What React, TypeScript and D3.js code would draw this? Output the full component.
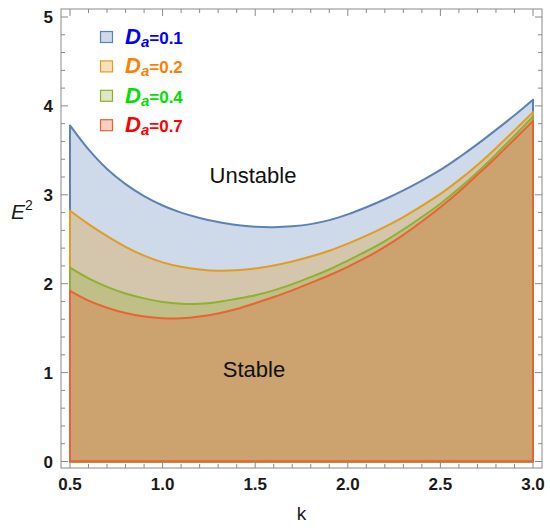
import React from "react";
import * as d3 from "d3";

const kValues = [0.5, 0.6, 0.7, 0.8, 0.9, 1.0, 1.1, 1.2, 1.3, 1.4, 1.5, 1.6, 1.7, 1.8, 1.9, 2.0, 2.1, 2.2, 2.3, 2.4, 2.5, 2.6, 2.7, 2.8, 2.9, 3.0];
const e2Da01 = [3.78, 3.51, 3.29, 3.12, 2.985, 2.88, 2.8, 2.74, 2.695, 2.66, 2.64, 2.635, 2.645, 2.67, 2.715, 2.78, 2.86, 2.95, 3.05, 3.16, 3.28, 3.42, 3.57, 3.73, 3.895, 4.07];
const e2Da02 = [2.82, 2.67, 2.535, 2.415, 2.315, 2.24, 2.19, 2.16, 2.145, 2.15, 2.17, 2.205, 2.25, 2.305, 2.37, 2.45, 2.54, 2.64, 2.75, 2.875, 3.01, 3.165, 3.335, 3.525, 3.725, 3.93];
const e2Da04 = [2.18, 2.06, 1.965, 1.89, 1.835, 1.795, 1.775, 1.775, 1.795, 1.83, 1.87, 1.925, 1.995, 2.075, 2.16, 2.26, 2.365, 2.48, 2.61, 2.75, 2.9, 3.07, 3.255, 3.455, 3.665, 3.88];
const e2Da07 = [1.92, 1.81, 1.73, 1.67, 1.63, 1.61, 1.61, 1.63, 1.665, 1.715, 1.78, 1.85, 1.925, 2.01, 2.095, 2.19, 2.295, 2.415, 2.55, 2.7, 2.86, 3.035, 3.225, 3.42, 3.625, 3.83];

const seriesLabels = ["0.1", "0.2", "0.4", "0.7"];
const xTickLabels = [0.5, 1.0, 1.5, 2.0, 2.5, 3.0];
const yTickLabels = [0, 1, 2, 3, 4, 5];

const lineColors = ["#5E81B5", "#E19C24", "#8FB032", "#EB6235"];
const textColors = ["#0000FF", "#FF8000", "#00E000", "#FF0000"];

export default function App() {
  const W = 550;
  const H = 531;
  const frame = { left: 61, right: 542, top: 9, bottom: 468 };
  const x = d3.scaleLinear().domain([0.5, 3.0]).range([70, 533]);
  const y = d3.scaleLinear().domain([0, 5]).range([461.5, 17]);
  const font = "'Liberation Sans', Arial, Helvetica, sans-serif";

  const series = [e2Da01, e2Da02, e2Da04, e2Da07];
  const area = d3
    .area<number>()
    .x((_, i) => x(kValues[i]))
    .y0(() => y(0))
    .y1((d) => y(d))
    .curve(d3.curveCatmullRom.alpha(0.5));

  const xMinor = d3.range(0.5, 3.0001, 0.1);
  const yMinor = d3.range(0, 5.0001, 0.2);
  const isMajorX = (v: number) => Math.abs(v * 2 - Math.round(v * 2)) < 1e-6;
  const isMajorY = (v: number) => Math.abs(v - Math.round(v)) < 1e-6;
  const tickColor = "#8a8a8a";

  return (
    <svg
      width={W}
      height={H}
      style={{ position: "absolute", left: 0, top: 0, background: "#fff" }}
      fontFamily={font}
    >
      {series.map((s, i) => (
        <path
          key={i}
          d={area(s) || ""}
          fill={lineColors[i]}
          fillOpacity={0.3}
          stroke={lineColors[i]}
          strokeWidth={2}
          strokeLinejoin="round"
        />
      ))}

      {/* frame */}
      <rect
        x={frame.left}
        y={frame.top}
        width={frame.right - frame.left}
        height={frame.bottom - frame.top}
        fill="none"
        stroke={tickColor}
        strokeWidth={1}
      />
      {xMinor.map((v, i) => {
        const len = isMajorX(v) ? 7 : 4;
        const px = x(v);
        return (
          <g key={"xt" + i} stroke={tickColor} strokeWidth={1}>
            <line x1={px} x2={px} y1={frame.bottom} y2={frame.bottom - len} />
            <line x1={px} x2={px} y1={frame.top} y2={frame.top + len} />
          </g>
        );
      })}
      {yMinor.map((v, i) => {
        const len = isMajorY(v) ? 7 : 4;
        const py = y(v);
        return (
          <g key={"yt" + i} stroke={tickColor} strokeWidth={1}>
            <line x1={frame.left} x2={frame.left + len} y1={py} y2={py} />
            <line x1={frame.right} x2={frame.right - len} y1={py} y2={py} />
          </g>
        );
      })}
      {xTickLabels.map((v, i) => (
        <text
          key={"xl" + i}
          x={x(v)}
          y={490}
          textAnchor="middle"
          fontSize={17}
          fontWeight="bold"
          fill="#1a1a1a"
        >
          {v.toFixed(1)}
        </text>
      ))}
      {yTickLabels.map((v, i) => (
        <text
          key={"yl" + i}
          x={53}
          y={y(v)}
          dy="0.36em"
          textAnchor="end"
          fontSize={17}
          fontWeight="bold"
          fill="#1a1a1a"
        >
          {v}
        </text>
      ))}

      <text x={301.5} y={520} textAnchor="middle" fontSize={19} fill="#1a1a1a">
        k
      </text>
      <text x={11} y={219} fontSize={21} fill="#1a1a1a">
        <tspan fontStyle="italic">E</tspan>
        <tspan fontSize={14} dy={-9}>2</tspan>
      </text>

      <text x={253} y={183} textAnchor="middle" fontSize={22} fill="#111">
        Unstable
      </text>
      <text x={254} y={377} textAnchor="middle" fontSize={22} fill="#111">
        Stable
      </text>

      {seriesLabels.map((lab, i) => {
        const cy = 37 + i * 29.4;
        return (
          <g key={"lg" + i}>
            <rect
              x={100.5}
              y={cy - 5.5}
              width={12}
              height={11}
              fill={lineColors[i]}
              fillOpacity={0.3}
              stroke={lineColors[i]}
              strokeWidth={1.2}
            />
            <text x={125} y={cy + 7} fill={textColors[i]} fontWeight="bold">
              <tspan fontSize={22} fontStyle="italic">D</tspan>
              <tspan fontSize={15} fontStyle="italic" dy={3}>a</tspan>
              <tspan fontSize={17} dy={-3}>={lab}</tspan>
            </text>
          </g>
        );
      })}
    </svg>
  );
}
